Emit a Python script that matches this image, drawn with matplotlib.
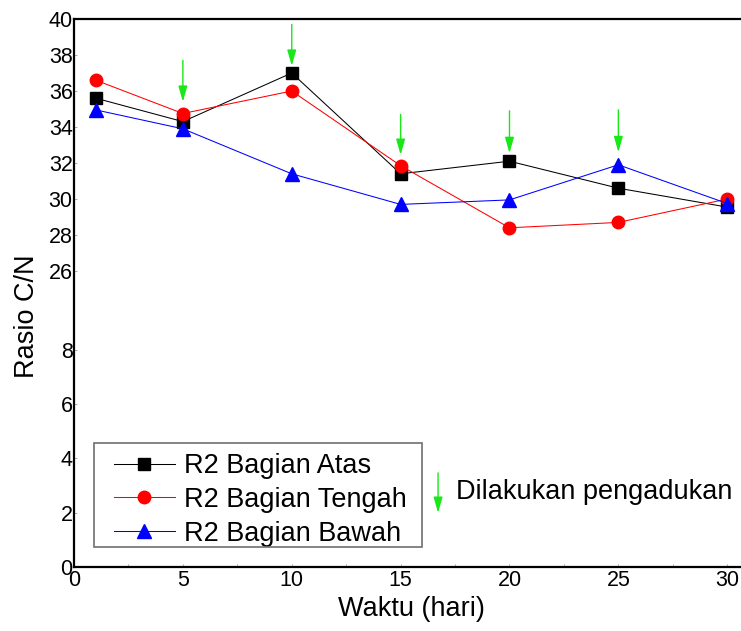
import numpy as np
import matplotlib
matplotlib.use("Agg")
import matplotlib.pyplot as plt
from matplotlib.patches import Rectangle
from matplotlib.ticker import FixedLocator, MultipleLocator

plt.rcParams['font.family'] = ['Liberation Sans', 'DejaVu Sans']

# Sampling days
days = [1, 5, 10, 15, 20, 25, 30]

# C/N ratio for the three reactor sections
atas = [35.6, 34.3, 37.0, 31.4, 32.1, 30.6, 29.55]
tengah = [36.6, 34.75, 36.0, 31.85, 28.4, 28.7, 30.0]
bawah = [34.95, 33.9, 31.4, 29.7, 29.95, 31.9, 29.75]

labels = ["R2 Bagian Atas", "R2 Bagian Tengah", "R2 Bagian Bawah"]

# Stirring events (day, arrow tail value, arrow tip value)
stir_days = [5, 10, 15, 20, 25]
stir_tail = [37.7, 39.7, 34.7, 34.9, 34.95]
stir_tip = [35.4, 37.4, 32.45, 32.55, 32.6]

yticks = [0, 2, 4, 6, 8, 26, 28, 30, 32, 34, 36, 38, 40]

# Broken y axis: 0-8 and 26-40 share one axis with different spacing
seg_v = np.array([0.0, 8.0, 26.0, 40.0])
seg_p = np.array([0.0, 217.5, 296.0, 548.0])


def _pw(x, xs, ys):
    x = np.asarray(x, dtype=float)
    out = np.interp(x, xs, ys)
    lo = x < xs[0]
    hi = x > xs[-1]
    s0 = (ys[1] - ys[0]) / (xs[1] - xs[0])
    s1 = (ys[-1] - ys[-2]) / (xs[-1] - xs[-2])
    out = np.where(lo, ys[0] + (x - xs[0]) * s0, out)
    out = np.where(hi, ys[-1] + (x - xs[-1]) * s1, out)
    return out


def fwd(v):
    return _pw(v, seg_v, seg_p)


def inv(p):
    return _pw(p, seg_p, seg_v)


W, H = 741, 631
fig = plt.figure(figsize=(W / 100, H / 100), dpi=100)
ax = fig.add_axes([74 / W, 1 - 567 / H, 675 / W, 548 / H])
ax.set_yscale('function', functions=(fwd, inv))
ax.set_ylim(0, 40)
ax.set_xlim(0, 31)

ax.plot(days, atas, color='black', lw=0.75, marker='s', ms=8.5,
        mfc='black', mec='black', label=labels[0], zorder=3)
ax.plot(days, tengah, color='red', lw=0.75, marker='o', ms=9,
        mfc='red', mec='red', label=labels[1], zorder=4)
ax.plot(days, bawah, color='blue', lw=0.75, marker='^', ms=9.5,
        mfc='blue', mec='blue', label=labels[2], zorder=5)

green = '#18e818'
arrow_kw = dict(arrowstyle='-|>,head_length=0.95,head_width=0.27',
                color=green, lw=1.0, mutation_scale=10,
                shrinkA=0, shrinkB=0)
for d, t0, t1 in zip(stir_days, stir_tail, stir_tip):
    ax.annotate('', xy=(d, t1), xytext=(d, t0), arrowprops=arrow_kw, zorder=6)

# Stirring key next to the legend
ax.annotate('', xy=(16.72, 1.99), xytext=(16.72, 3.46), arrowprops=arrow_kw)
ax.text(17.55, 2.76, 'Dilakukan pengadukan', fontsize=19.5,
        ha='left', va='center')

ax.yaxis.set_major_locator(FixedLocator(yticks))
ax.set_yticklabels([str(t) for t in yticks])
ax.set_xticks([0, 5, 10, 15, 20, 25, 30])
ax.xaxis.set_minor_locator(MultipleLocator(2.5))
ax.tick_params(axis='both', which='both', direction='in', length=2,
               width=0.5, color='#888888', labelsize=15.5)
ax.tick_params(axis='x', pad=2)
ax.tick_params(axis='y', pad=1)

for side in ['left', 'bottom', 'top']:
    ax.spines[side].set_linewidth(1.6)
ax.spines['right'].set_visible(False)

ax.set_xlabel('Waktu (hari)', fontsize=19.5)
ax.set_ylabel('Rasio C/N', fontsize=19.5)
ax.yaxis.set_label_coords(-0.050, 0.458)

# Legend entries without their own frame; box drawn separately
leg = ax.legend(loc='upper left', bbox_to_anchor=(114 / W, 1 - 453 / H),
                bbox_transform=fig.transFigure, borderaxespad=0,
                fontsize=19.5, frameon=False, handlelength=2.25,
                handletextpad=0.35, labelspacing=0.29, borderpad=0)
box = Rectangle((94 / W, 1 - 547 / H), (422 - 94) / W, (547 - 443) / H,
                transform=fig.transFigure, facecolor='none',
                edgecolor='#707070', lw=1.2, zorder=7)
fig.add_artist(box)

fig.savefig('out.png', dpi=100)
